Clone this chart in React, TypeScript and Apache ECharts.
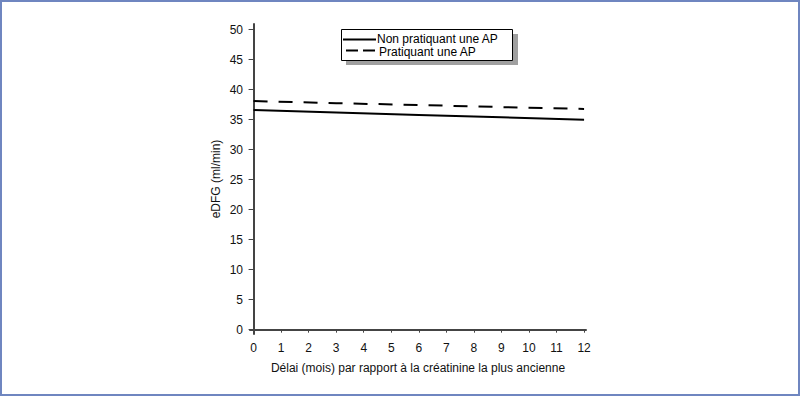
import React, { useEffect, useRef } from "react";
import * as echarts from "echarts";

const months = [0, 3, 6, 9, 12];
const nonPratiquant = [36.6, 36.2, 35.8, 35.4, 35.0];
const pratiquant = [38.1, 37.75, 37.45, 37.1, 36.8];
const xTicks = [0, 1, 2, 3, 4, 5, 6, 7, 8, 9, 10, 11, 12];
const yTicks = [0, 5, 10, 15, 20, 25, 30, 35, 40, 45, 50];
const seriesNames = ["Non pratiquant une AP", "Pratiquant une AP"];

export default function App() {
  const ref = useRef<HTMLDivElement>(null);
  useEffect(() => {
    const chart = echarts.init(ref.current!, null, { renderer: "svg" });
    const font = "'Liberation Sans', Arial, sans-serif";
    const legendText = (text: string, x: number, y: number) => ({
      type: "text",
      z: 10,
      x,
      y,
      silent: true,
      style: { text, fontFamily: font, fontSize: 12, fill: "#000", textVerticalAlign: "middle", lineHeight: 12 },
    });
    const seg = (x1: number, x2: number, y: number) => ({
      type: "line",
      z: 10,
      silent: true,
      shape: { x1, y1: y, x2, y2: y },
      style: { stroke: "#000", lineWidth: 2 },
    });
    chart.setOption({
      animation: false,
      backgroundColor: "#ffffff",
      grid: { left: 250, right: 214, top: 24, bottom: 62, containLabel: false },
      xAxis: {
        type: "value",
        min: -0.13,
        max: 12.07,
        name: "Délai (mois) par rapport à la créatinine la plus ancienne",
        nameLocation: "middle",
        nameGap: 28,
        nameTextStyle: { fontFamily: font, fontSize: 12, color: "#111" },
        axisLine: { show: true, lineStyle: { color: "#444", width: 2 } },
        axisTick: { show: true, customValues: xTicks, length: 3, lineStyle: { color: "#444", width: 1 } },
        axisLabel: { customValues: xTicks, margin: 8, fontFamily: font, fontSize: 12, color: "#111" },
        splitLine: { show: false },
      },
      yAxis: {
        type: "value",
        min: -0.72,
        max: 50.95,
        name: "eDFG (ml/min)",
        nameLocation: "middle",
        nameGap: 28,
        nameRotate: 90,
        nameTextStyle: { fontFamily: font, fontSize: 12, color: "#111" },
        axisLine: { show: true, lineStyle: { color: "#444", width: 2 } },
        axisTick: { show: true, customValues: yTicks, length: 5, lineStyle: { color: "#444", width: 1 } },
        axisLabel: { customValues: yTicks, margin: 7, fontFamily: font, fontSize: 12, color: "#111" },
        splitLine: { show: false },
      },
      legend: { show: false },
      graphic: [
        {
          type: "rect",
          z: 1,
          silent: true,
          shape: { x: 346, y: 34, width: 172, height: 31 },
          style: { fill: "#a0a0a0" },
        },
        {
          type: "rect",
          z: 2,
          silent: true,
          shape: { x: 341.5, y: 29.5, width: 171, height: 31 },
          style: { fill: "#ffffff", stroke: "#000", lineWidth: 1 },
        },
        seg(343, 376, 39.5),
        legendText(seriesNames[0], 377, 39),
        seg(346, 358, 50.5),
        seg(363, 375, 50.5),
        legendText(seriesNames[1], 379, 51.5),
        {
          type: "rect",
          silent: true,
          shape: { x: 1, y: 1, width: 798, height: 394 },
          style: { fill: "none", stroke: "#6f86c0", lineWidth: 2 },
        },
      ],
      series: [
        {
          name: seriesNames[0],
          type: "line",
          data: months.map((m, i) => [m, nonPratiquant[i]]),
          showSymbol: false,
          symbol: "none",
          lineStyle: { color: "#000", width: 2, type: "solid" },
          itemStyle: { color: "#000" },
        },
        {
          name: seriesNames[1],
          type: "line",
          data: months.map((m, i) => [m, pratiquant[i]]),
          showSymbol: false,
          symbol: "none",
          lineStyle: { color: "#000", width: 2, type: [14, 11] },
          itemStyle: { color: "#000" },
        },
      ],
    });
    return () => chart.dispose();
  }, []);
  return (
    <div
      ref={ref}
      style={{ position: "fixed", left: 0, top: 0, width: 800, height: 396 }}
    />
  );
}
